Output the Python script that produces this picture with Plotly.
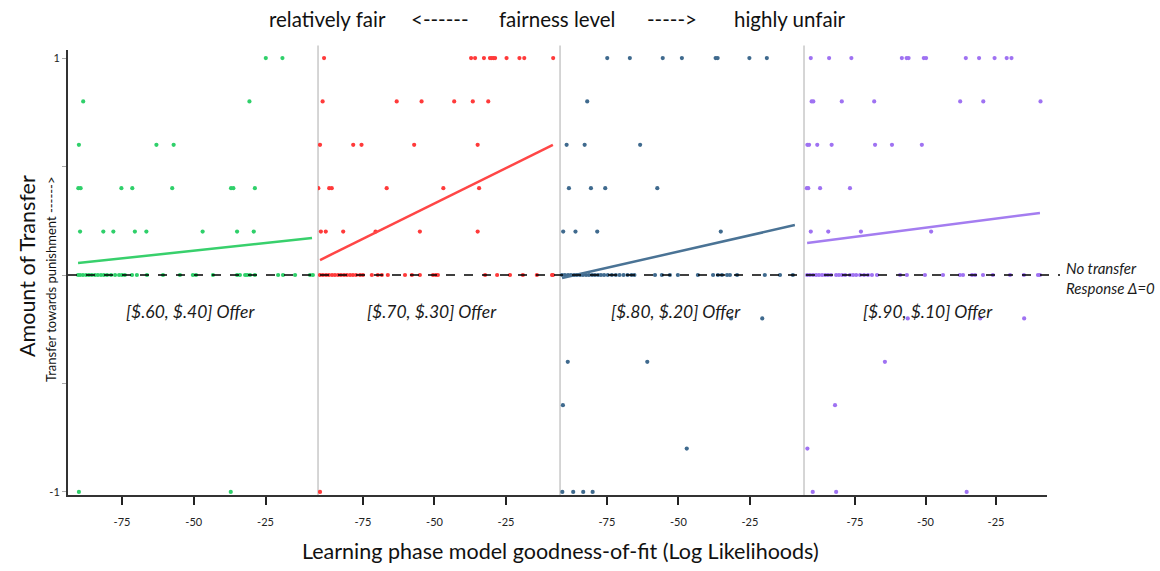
import plotly.graph_objects as go

# ---- data: log-likelihood (x) vs. amount of transfer (y), one panel per offer ----
offers = ["[$.60, $.40] Offer", "[$.70, $.30] Offer", "[$.80, $.20] Offer", "[$.90, $.10] Offer"]
colors = ["#2fd06a", "#ff3a3a", "#3f6a8e", "#9f72f2"]
line_colors = ["#38d06c", "#ff4646", "#4a7395", "#a47df0"]

# transfer levels present in each panel, and the x values observed at each level
levels_60 = [1.0, 0.8, 0.6, 0.4, 0.2, 0.0, -1.0]
x_60 = [
    [-24.9, -19.1],
    [-88.5, -30.6],
    [-90.0, -63.0, -57.0],
    [-90.2, -89.4, -75.2, -71.4, -57.5, -37.0, -36.2, -28.7],
    [-89.6, -81.5, -78.0, -70.5, -66.5, -46.9, -34.9, -29.1],
    [-90.3, -89.6, -88.6, -87.5, -86.5, -85.5, -84.4, -83.4, -82.3, -81.3, -80.2, -78.8,
     -77.4, -76.0, -75.0, -74.0, -71.5, -69.8, -66.3, -60.7, -54.8, -50.3, -49.2, -43.3,
     -34.9, -33.9, -32.1, -31.4, -30.4, -28.7, -20.6, -18.9, -14.7, -9.5, -8.5],
    [-90.0, -37.1],
]

levels_70 = [1.0, 0.8, 0.6, 0.4, 0.2, 0.0, -1.0]
x_70 = [
    [-88.6, -37.2, -35.8, -32.7, -30.6, -30.0, -29.4, -28.8, -24.8, -20.3, -18.6, -8.5],
    [-89.1, -63.2, -54.5, -43.1, -36.6, -31.2],
    [-90.0, -78.4, -75.5, -57.1, -34.9],
    [-90.6, -86.8, -85.9, -66.7, -46.9, -34.4],
    [-89.7, -88.0, -81.9, -70.6, -55.1, -34.9],
    [-90.0, -89.0, -87.9, -86.9, -85.8, -84.8, -83.7, -82.7, -81.6, -80.6, -79.5, -78.5,
     -77.4, -76.0, -75.0, -71.9, -69.8, -68.4, -66.3, -60.3, -57.9, -55.1, -50.5, -49.5,
     -48.8, -32.3, -28.1, -23.6, -19.1, -14.2, -8.9, -8.6],
    [-90.0],
]

levels_80 = [1.0, 0.8, 0.6, 0.4, 0.2, 0.0, -0.2, -0.4, -0.6, -0.8, -1.0]
x_80 = [
    [-74.9, -67.0, -55.5, -48.8, -37.0, -36.3, -25.2, -19.1],
    [-81.9],
    [-89.1, -82.8, -63.4],
    [-88.3, -80.6, -75.6, -57.4],
    [-90.3, -86.0, -78.4, -35.2],
    [-90.7, -89.7, -88.6, -87.6, -86.5, -85.5, -84.4, -83.4, -82.3, -81.3, -80.2, -79.2,
     -78.1, -77.1, -76.0, -74.7, -73.3, -71.9, -70.6, -69.2, -67.8, -66.4, -65.4, -58.2,
     -55.8, -53.0, -50.2, -43.2, -37.9, -36.2, -34.8, -33.0, -32.0, -29.5, -19.8, -14.5, -10.0],
    [-31.6, -20.7],
    [-88.7, -60.9],
    [-90.4],
    [-47.1],
    [-90.6, -86.8, -83.3, -80.0],
]

levels_90 = [1.0, 0.8, 0.6, 0.4, 0.2, 0.0, -0.2, -0.4, -0.6, -0.8, -1.0]
x_90 = [
    [-90.7, -84.2, -76.3, -58.4, -56.7, -56.0, -50.6, -49.8, -35.7, -31.0, -25.5, -21.2, -19.5],
    [-90.4, -89.8, -79.7, -68.2, -37.7, -29.5, -9.2],
    [-91.9, -91.3, -88.4, -83.3, -67.9, -61.9, -51.3],
    [-92.1, -91.6, -87.4, -76.8],
    [-90.7, -84.5, -72.9, -48.0],
    [-92.0, -91.0, -89.9, -88.8, -87.8, -86.7, -85.6, -84.6, -83.5, -81.7, -80.7, -79.6,
     -78.5, -76.8, -75.7, -74.6, -73.2, -71.8, -70.4, -69.0, -67.2, -59.0, -56.6, -50.2,
     -43.8, -37.8, -36.7, -33.5, -32.4, -29.6, -26.1, -20.0, -15.1, -10.1, -9.4],
    [-56.3, -30.6, -15.0],
    [-64.4],
    [-82.1],
    [-91.9],
    [-90.0, -81.7, -35.4],
]

# fitted regression lines (end points) for each panel
fit_x = [[-90.3, -8.8], [-90.0, -8.6], [-90.7, -9.3], [-92.0, -9.4]]
fit_y = [[0.055, 0.17], [0.069, 0.60], [-0.014, 0.23], [0.147, 0.286]]

# x-axis ranges and horizontal domains for the four panels
x_ranges = [[-93.8, -6.7], [-90.7, -6.1], [-91.4, -6.1], [-93.1, -6.9]]
x_domains = [[0.0, 0.2554], [0.2554, 0.5026], [0.5026, 0.7518], [0.7518, 1.0]]
x_tick_vals = [-75, -50, -25]
x_tick_text = ["-75", "-50", "-25"]
y_tick_vals = [-1, -0.5, 0, 0.5, 1]
y_tick_text = ["-1", "", "", "", "1"]

panel_levels = [levels_60, levels_70, levels_80, levels_90]
panel_x = [x_60, x_70, x_80, x_90]

FONT = "Lato"
# plot area in pixels: left 68, right 1047, top 50, bottom 495
PL, PW, PB, PH = 68, 979, 495, 445


def px(xp):
    return (xp - PL) / PW


def py(yp):
    return (PB - yp) / PH


fig = go.Figure()

for i in range(4):
    xs, ys = [], []
    for lvl, row in zip(panel_levels[i], panel_x[i]):
        xs.extend(row)
        ys.extend([lvl] * len(row))
    axis = "x" if i == 0 else f"x{i + 1}"
    fig.add_trace(go.Scatter(
        x=xs, y=ys, mode="markers", xaxis=axis, yaxis="y",
        marker=dict(size=4.2, color=colors[i]), showlegend=False, hoverinfo="x+y",
    ))
    fig.add_trace(go.Scatter(
        x=fit_x[i], y=fit_y[i], mode="lines", xaxis=axis, yaxis="y",
        line=dict(color=line_colors[i], width=2.5), showlegend=False, hoverinfo="skip",
    ))

layout = dict(
    width=1160, height=571,
    margin=dict(l=68, r=113, t=50, b=76),
    paper_bgcolor="white", plot_bgcolor="white",
    font=dict(family=FONT, color="#1a1a1a"),
    yaxis=dict(
        range=[-1.014, 1.037], tickvals=y_tick_vals, ticktext=y_tick_text,
        showgrid=False, zeroline=False, showline=True, linecolor="#333333", linewidth=2,
        ticks="outside", ticklen=4, tickcolor="#aaaaaa", tickwidth=1,
        tickfont=dict(size=11, color="#222222"), anchor="x",
    ),
)
for i in range(4):
    key = "xaxis" if i == 0 else f"xaxis{i + 1}"
    layout[key] = dict(
        domain=x_domains[i], range=x_ranges[i], anchor="y",
        tickvals=x_tick_vals, ticktext=x_tick_text,
        showgrid=False, zeroline=False, showline=True, linecolor="#333333", linewidth=2,
        ticks="outside", ticklen=8, tickwidth=1.5, tickcolor="#222222",
        tickfont=dict(size=11, color="#222222"), ticklabelstandoff=8,
    )
fig.update_layout(**layout)

shapes = []
# light grey separators between offer panels
for d in x_domains[1:]:
    shapes.append(dict(type="line", xref="paper", yref="paper", x0=d[0], x1=d[0],
                       y0=0, y1=1.01, line=dict(color="#c8c8c8", width=1.5), layer="below"))
# dashed "no transfer" reference at zero
shapes.append(dict(type="line", xref="paper", yref="y", x0=0, x1=px(1060), y0=0, y1=0,
                   line=dict(color="black", width=1.3, dash="dash")))
fig.update_layout(shapes=shapes)


def note(text, xp, yp, size, angle=0, xanchor="center", align="center", color="#111111"):
    return dict(text=text, xref="paper", yref="paper", x=px(xp), y=py(yp),
                xanchor=xanchor, yanchor="middle", align=align, textangle=angle,
                showarrow=False, font=dict(size=size, color=color, family=FONT))


annotations = []
# panel captions
for txt, cx in zip(offers, [190, 432, 676, 928]):
    annotations.append(note(f"<i>{txt}</i>", cx, 311, 17.5, color="#1a1a1a"))
# reference-line note
annotations.append(note("<i>No transfer<br>Response Δ=0</i>", 1064, 278, 15,
                        xanchor="left", align="left", color="#1a1a1a"))
# fairness header
for txt, cx in [("relatively fair", 327), ("&lt;------", 440), ("fairness level", 557),
                ("-----&gt;", 672), ("highly unfair", 790)]:
    annotations.append(note(txt, cx, 19, 20.5))
# axis titles
annotations.append(note("Learning phase model goodness-of-fit (Log Likelihoods)", 560, 551, 21.5))
annotations.append(note("Amount of Transfer", 27, 266, 21.5, angle=-90))
annotations.append(note("Transfer towards punishment ------&gt;", 51, 280, 13, angle=-90))
fig.update_layout(annotations=annotations)

fig.write_html("out.html")
